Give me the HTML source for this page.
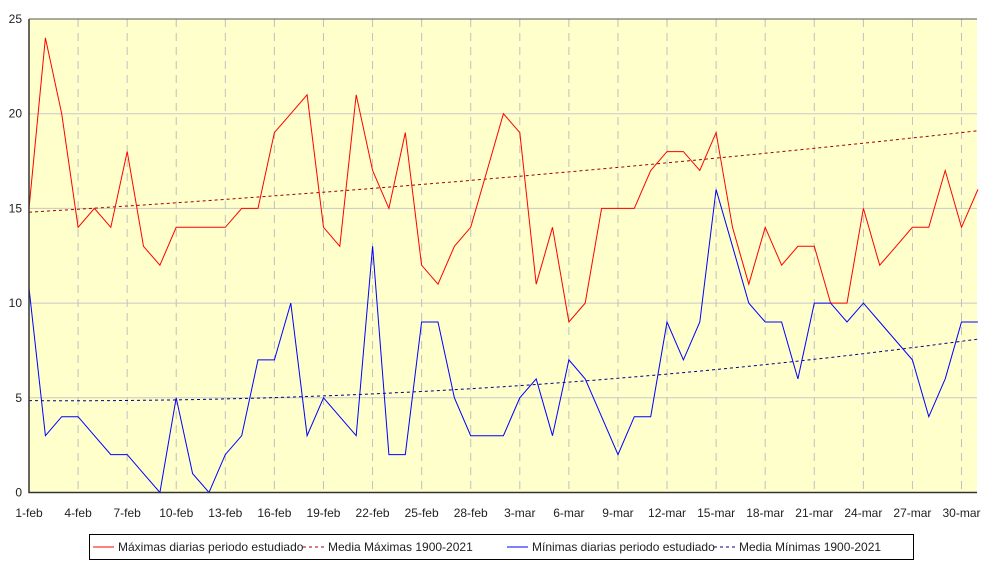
<!DOCTYPE html>
<html><head><meta charset="utf-8"><style>
body{margin:0;background:#fff;}
svg text{font-family:"Liberation Sans",sans-serif;font-size:12px;fill:#222;}
</style></head><body>
<svg id="s" width="987" height="567" xmlns="http://www.w3.org/2000/svg">
<rect x="29" y="19" width="948" height="473.5" fill="#ffffcc"/>
<g id="g"></g>
<rect x="89.5" y="534.5" width="824" height="25" fill="#fff" stroke="#000"/>
<line x1="93" y1="547" x2="114" y2="547" stroke="#f00"/>
<text x="118" y="551">Máximas diarias periodo estudiado</text>
<line x1="303" y1="547" x2="324" y2="547" stroke="#a00000" stroke-dasharray="3,3"/>
<text x="328" y="551">Media Máximas 1900-2021</text>
<line x1="507" y1="547" x2="528" y2="547" stroke="#00f"/>
<text x="532" y="551">Mínimas diarias periodo estudiado</text>
<line x1="714" y1="547" x2="735" y2="547" stroke="#000080" stroke-dasharray="3,3"/>
<text x="739" y="551">Media Mínimas 1900-2021</text>
</svg>
<script>
var g=document.getElementById('g'),h='';
function X(i){return 29+i*16.36;}function Y(v){return 492.5-v*18.94;}
for(var v=5;v<=20;v+=5)h+='<line x1="29" x2="977" y1="'+Y(v)+'" y2="'+Y(v)+'" stroke="#c8c8c8"/>';
var lab=['1-feb','4-feb','7-feb','10-feb','13-feb','16-feb','19-feb','22-feb','25-feb','28-feb','3-mar','6-mar','9-mar','12-mar','15-mar','18-mar','21-mar','24-mar','27-mar','30-mar'];
for(var k=0;k<20;k++){var x=X(3*k);if(k>0)h+='<line x1="'+x+'" x2="'+x+'" y1="19" y2="492" stroke="#c0c0c0" stroke-dasharray="8,6"/>';h+='<text x="'+x+'" y="517" text-anchor="middle">'+lab[k]+'</text>';}
for(var v=0;v<=25;v+=5)h+='<text x="22" y="'+(Y(v)+4)+'" text-anchor="end">'+v+'</text>';
var mx=[15,24,20,14,15,14,18,13,12,14,14,14,14,15,15,19,20,21,14,13,21,17,15,19,12,11,13,14,17,20,19,11,14,9,10,15,15,15,17,18,18,17,19,14,11,14,12,13,13,10,10,15,12,13,14,14,17,14,16];
var mn=[10.8,3,4,4,3,2,2,1,0,5,1,0,2,3,7,7,10,3,5,4,3,13,2,2,9,9,5,3,3,3,5,6,3,7,6,4,2,4,4,9,7,9,16,13,10,9,9,6,10,10,9,10,9,8,7,4,6,9,9];
function pl(a,c,d){var p=a.map(function(v,i){return X(i).toFixed(1)+','+Y(v).toFixed(1)}).join(' ');return '<polyline points="'+p+'" fill="none" stroke="'+c+'" stroke-width="1"'+(d?' stroke-dasharray="3,3"':'')+'/>';}
var mmx=[],mmn=[];
for(var i=0;i<59;i++){var t=i/58;mmx.push(14.8+3.0*t+1.3*t*t);mmn.push(4.85-0.3*t+3.55*t*t);}
h+=pl(mmx,'#a00000',1)+pl(mmn,'#000080',1)+pl(mx,'#ff0000')+pl(mn,'#0000ff');
h+='<polyline points="29,19 29,492.5 977,492.5" fill="none" stroke="#333" stroke-width="1.5"/><line x1="29" y1="19" x2="977" y2="19" stroke="#555"/>';
g.innerHTML=h;
</script>
</body></html>
